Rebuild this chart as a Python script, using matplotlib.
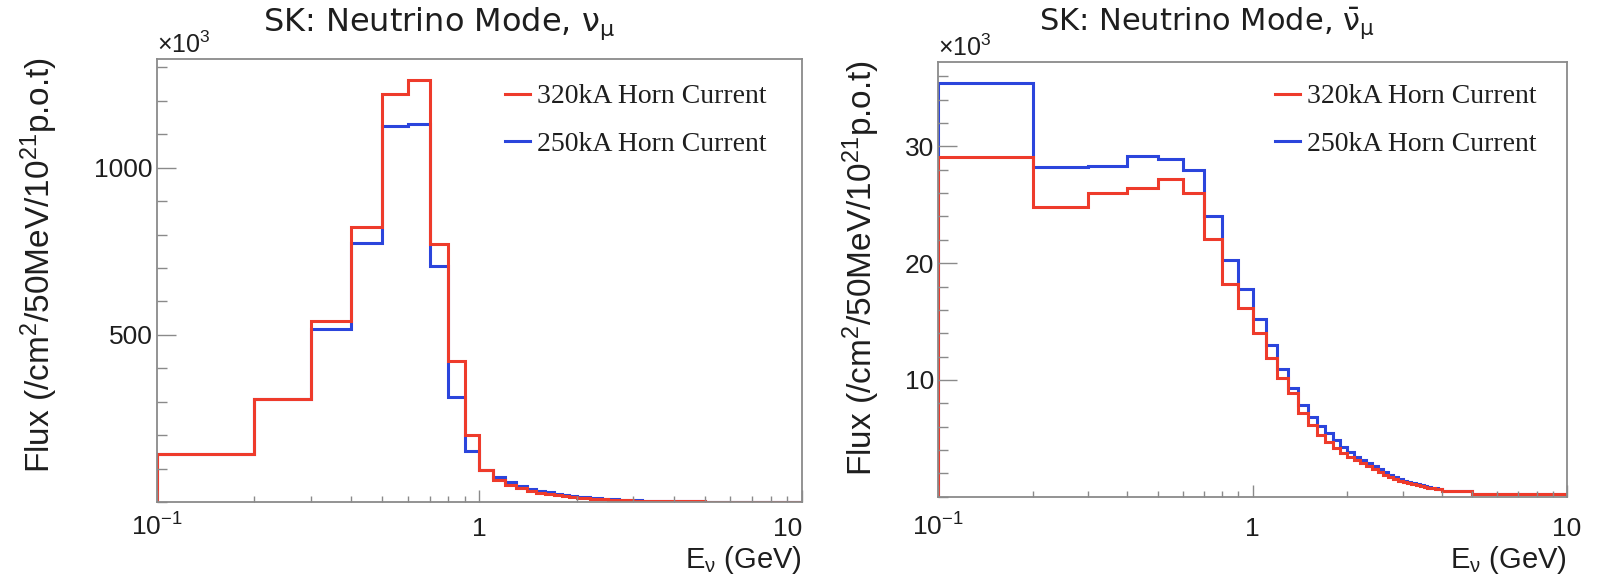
import numpy as np
import matplotlib
matplotlib.use("Agg")
import matplotlib.pyplot as plt
from matplotlib.ticker import FixedLocator, FixedFormatter, MultipleLocator, LogLocator, NullFormatter

plt.rcParams['font.family'] = ['Liberation Sans', 'DejaVu Sans']
plt.rcParams['mathtext.fontset'] = 'custom'
plt.rcParams['mathtext.rm'] = 'Liberation Sans'
plt.rcParams['mathtext.it'] = 'Liberation Sans:italic'
plt.rcParams['mathtext.bf'] = 'Liberation Sans:bold'
plt.rcParams['mathtext.default'] = 'rm'

# Neutrino energy bin edges (GeV)
edges = [0.1, 0.2, 0.3, 0.4, 0.5, 0.6, 0.7, 0.8, 0.9, 1.0,
         1.1, 1.2, 1.3, 1.4, 1.5, 1.6, 1.7, 1.8, 1.9, 2.0,
         2.1, 2.2, 2.3, 2.4, 2.5, 2.6, 2.7, 2.8, 2.9, 3.0,
         3.1, 3.2, 3.3, 3.4, 3.5, 3.6, 3.7, 3.8, 3.9, 4.0,
         5.0, 10.0]

# SK flux, neutrino mode, numu (x10^3)
numu_320 = [145, 308, 540, 823, 1220, 1262, 772, 422, 199,
            97, 65, 51, 41, 34, 28, 24, 20, 17.5, 15,
            13, 11.5, 10, 9, 8, 7, 6.3, 5.7, 5.2, 4.7,
            4.3, 4.0, 3.7, 3.4, 3.2, 3.0, 2.8, 2.6, 2.4, 2.3,
            2.0, 1.2]
numu_250 = [145, 308, 516, 776, 1124, 1130, 706, 314, 153,
            96, 74, 59, 48, 40, 34, 29, 25, 21.5, 18.5,
            16, 14, 12.5, 11, 9.8, 8.7, 7.7, 7.0, 6.3, 5.7,
            5.2, 4.7, 4.3, 3.9, 3.6, 3.3, 3.0, 2.8, 2.6, 2.4,
            2.1, 1.3]

# SK flux, neutrino mode, numubar (x10^3)
numubar_320 = [29.1, 24.85, 26.0, 26.4, 27.2, 26.0, 22.1, 18.2, 16.2,
               14.05, 11.86, 10.2, 8.9, 7.14, 6.14, 5.29, 4.71, 4.14, 3.71,
               3.43, 3.14, 2.86, 2.6, 2.35, 2.1, 1.9, 1.7, 1.5, 1.35,
               1.25, 1.15, 1.05, 0.97, 0.9, 0.83, 0.77, 0.72, 0.67, 0.63,
               0.5, 0.25]
numubar_250 = [35.4, 28.2, 28.35, 29.2, 28.9, 28.0, 24.0, 20.3, 17.8,
               15.25, 13.0, 10.94, 9.3, 7.86, 6.86, 6.06, 5.43, 4.86, 4.29,
               3.86, 3.43, 3.14, 2.85, 2.6, 2.35, 2.1, 1.9, 1.7, 1.52,
               1.38, 1.26, 1.15, 1.06, 0.98, 0.9, 0.83, 0.77, 0.71, 0.66,
               0.5, 0.25]

labels = ["320kA Horn Current", "250kA Horn Current"]
titles = ["SK: Neutrino Mode, $\\nu_{\\mu}$", "SK: Neutrino Mode, $\\bar{\\nu}_{\\mu}$"]
ytick_vals = [[500, 1000], [10, 20, 30]]
xtick_vals = [0.1, 1, 10]
xtick_text = ["$10^{-1}$", "1", "10"]

RED = '#ee3b2b'
BLUE = '#2b45dc'
GRAY = '#8a8a8a'
TXT = '#1e1e1e'

W, H = 1598, 579
fig = plt.figure(figsize=(W / 100, H / 100), dpi=100)


def fx(px):
    return px / W


def fy(py):
    return 1 - py / H


# panel frames in pixels: left, top, right, bottom
frames = [(157, 59, 802, 502), (938, 62.3, 1567, 496.7)]
ymax = [1325, 37.2]
yminor = [100, 2]
series = [(numu_320, numu_250), (numubar_320, numubar_250)]

for i, (l, t, r, b) in enumerate(frames):
    ax = fig.add_axes([fx(l), fy(b), (r - l) / W, (b - t) / H])
    v320, v250 = series[i]
    h250 = ax.stairs(v250, edges, baseline=0, color=BLUE, lw=2.2)
    h320 = ax.stairs(v320, edges, baseline=0, color=RED, lw=2.2)

    ax.set_xscale('log')
    ax.set_xlim(0.1, 10)
    ax.set_ylim(0, ymax[i])
    ax.xaxis.set_major_locator(FixedLocator(xtick_vals))
    ax.xaxis.set_major_formatter(FixedFormatter(xtick_text))
    ax.xaxis.set_minor_locator(LogLocator(base=10, subs=np.arange(2, 10)))
    ax.xaxis.set_minor_formatter(NullFormatter())
    ax.yaxis.set_major_locator(FixedLocator(ytick_vals[i]))
    ax.yaxis.set_minor_locator(MultipleLocator(yminor[i]))

    for sp in ax.spines.values():
        sp.set_color(GRAY)
        sp.set_linewidth(1.3)
    ax.tick_params(which='both', direction='in', color=GRAY, width=1,
                   top=False, right=False, labelcolor=TXT)
    ax.tick_params(axis='x', which='major', length=9, labelsize=19,
                   pad=(536 - b) * 0.72)
    ax.tick_params(axis='x', which='minor', length=4.5)
    ax.tick_params(axis='y', which='major', length=14, labelsize=19, pad=3)
    ax.tick_params(axis='y', which='minor', length=7)
    for tk in ax.xaxis.get_major_ticks():
        tk.label1.set_va('baseline')
    if i == 0:
        ax.xaxis.get_major_ticks()[-1].label1.set_ha('right')

    ax.legend([h320, h250], labels, loc='center left',
              bbox_to_anchor=(fx(l + 348 if i == 0 else l + 337), fy(120.5)),
              bbox_transform=fig.transFigure, frameon=False,
              borderpad=0, borderaxespad=0, handlelength=0.9,
              handletextpad=0.25, labelspacing=0.8,
              prop={'family': 'Liberation Serif', 'size': 20}, labelcolor=TXT)

    # titles and axis labels
    fig.text(fx(l + (106 if i == 0 else 101)), fy(31), titles[i],
             fontsize=(23 if i == 0 else 22),
             family='DejaVu Sans', math_fontfamily='dejavusans',
             ha='left', va='baseline', color=TXT)
    fig.text(fx(l), fy(t - 6), "$\\times10^{3}$", fontsize=18,
             ha='left', va='baseline', color=TXT)
    fig.text(fx(l - (107 if i == 0 else 66)), fy(t - 2),
             "Flux (/cm$^{2}$/50MeV/10$^{21}$p.o.t)", fontsize=24,
             rotation=90, rotation_mode='anchor', ha='right', va='baseline',
             color=TXT)
    fig.text(fx(r), fy(568), "E$_{\\nu}$ (GeV)", fontsize=21,
             ha='right', va='baseline', color=TXT)

fig.savefig("out.png", dpi=100)
